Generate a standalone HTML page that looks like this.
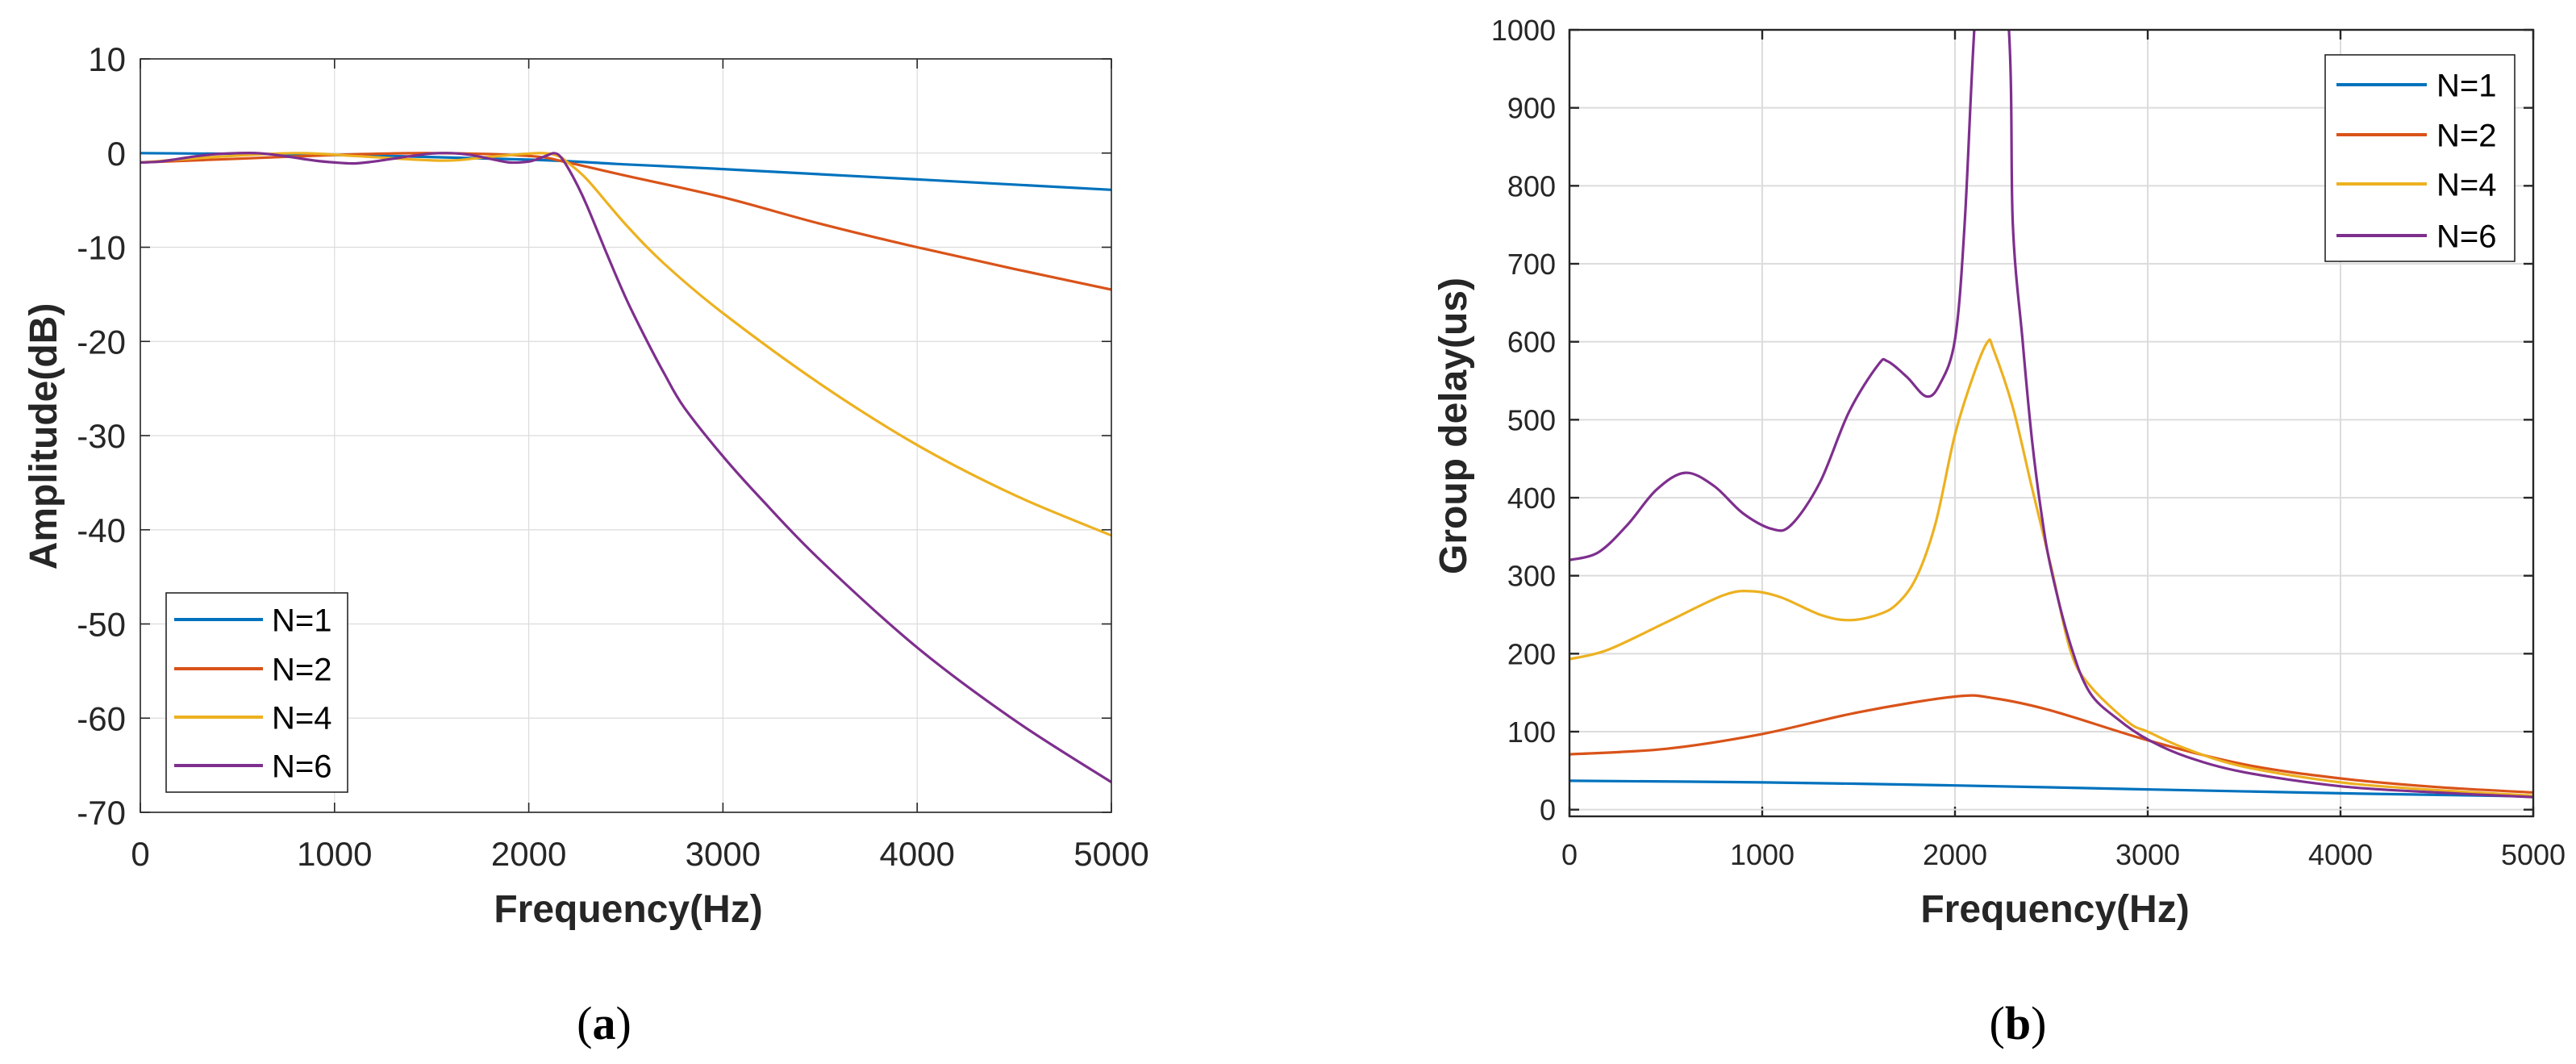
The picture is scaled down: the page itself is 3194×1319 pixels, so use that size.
<!DOCTYPE html>
<html><head><meta charset="utf-8"><style>
html,body{margin:0;padding:0;background:#fff;}
svg{display:block;font-family:"Liberation Sans",Arial,sans-serif;}
</style></head><body>
<svg id="fig" width="3194" height="1319" viewBox="0 0 3194 1319" xmlns="http://www.w3.org/2000/svg">
<defs>
<clipPath id="clipA"><rect x="174" y="73" width="1204" height="934"/></clipPath>
<clipPath id="clipB"><rect x="1946" y="37" width="1195" height="975"/></clipPath>
</defs>
<g id="panelA"></g>
<g id="panelB"></g>
</svg>
<script>
// ---- data ----
const xTicks = [0,1000,2000,3000,4000,5000];
const ampTicks = [10,0,-10,-20,-30,-40,-50,-60,-70];
const delayTicks = [0,100,200,300,400,500,600,700,800,900,1000];
const seriesNames = ["N=1","N=2","N=4","N=6"];
const seriesColors = ["#0072BD","#D95319","#EDB120","#7E2F8E"];

const ampF1 = [0,1000,2000,2500,3000,4000,5000];
const ampV1 = [0,-0.2,-0.7,-1.2,-1.7,-2.8,-3.9];
const ampF2 = [0,500,1000,1500,2000,2200,2500,3000,3500,4000,4500,5000];
const ampV2 = [-1,-0.6,-0.2,0,-0.3,-1,-2.4,-4.7,-7.5,-10,-12.3,-14.5];
const ampF4 = [0,400,800,1100,1550,1800,2050,2150,2200,2300,2500,2700,3000,3500,4000,4500,5000];
const ampV4 = [-1,-0.4,0,-0.3,-0.8,-0.4,0,-0.3,-1,-2.8,-7.6,-11.8,-17,-24.5,-31,-36.3,-40.6];
const ampF6 = [0,100,200,300,400,500,600,700,800,900,1000,1100,1200,1300,1400,1500,1600,1700,1800,1900,2000,2050,2100,2130,2160,2200,2250,2300,2400,2500,2600,2700,2800,3000,3200,3500,4000,4500,5000];
const ampV6 = [-1,-0.9,-0.6,-0.3,-0.1,0,0,-0.2,-0.5,-0.8,-1,-1.1,-0.9,-0.6,-0.3,-0.05,0,-0.2,-0.6,-1,-0.9,-0.6,-0.2,0,-0.3,-1.5,-3.4,-5.6,-10.6,-15.4,-19.6,-23.5,-27,-32.2,-36.8,-43.2,-52.5,-60.2,-66.8];

const delF1 = [0,1000,2000,3000,4000,5000];
const delV1 = [37,35,31,26,21,17];
const delF2 = [0,500,1000,1500,2000,2200,2500,3000,3500,4000,4500,5000];
const delV2 = [71,78,97,125,145,143,127,89,58,40,29,22];
const delF4 = [0,200,500,800,950,1100,1300,1450,1600,1700,1800,1900,2000,2100,2170,2200,2300,2400,2500,2600,2700,2900,3000,3200,3500,4000,4500,5000];
const delV4 = [193,205,240,275,280,272,250,243,250,264,298,368,481,560,600,590,516,412,310,203,159,112,100,78,55,35,25,18];
const delF6 = [0,150,300,450,600,750,900,1050,1150,1300,1450,1600,1650,1750,1850,1920,2000,2050,2100,2180,2280,2300,2350,2400,2450,2500,2600,2700,2850,3000,3200,3500,4000,4500,5000];
const delV6 = [320,330,365,410,432,415,380,360,365,420,510,570,575,555,530,545,603,750,1000,1300,1000,751,603,473,377,307,211,150,115,90,68,48,30,22,16];

// ---- helpers ----
const NS = "http://www.w3.org/2000/svg";
function mk(parent, tag, attrs, text){
  const e = document.createElementNS(NS, tag);
  for (const k in attrs) e.setAttribute(k, attrs[k]);
  if (text !== undefined) e.textContent = text;
  parent.appendChild(e);
  return e;
}
function smoothPath(pts){
  let d = "M" + pts[0][0].toFixed(1) + "," + pts[0][1].toFixed(1);
  for (let i = 0; i < pts.length - 1; i++){
    const p0 = pts[Math.max(0,i-1)], p1 = pts[i], p2 = pts[i+1], p3 = pts[Math.min(pts.length-1,i+2)];
    const c1x = p1[0] + (p2[0]-p0[0])/6, c1y = p1[1] + (p2[1]-p0[1])/6;
    const c2x = p2[0] - (p3[0]-p1[0])/6, c2y = p2[1] - (p3[1]-p1[1])/6;
    d += "C" + c1x.toFixed(1)+","+c1y.toFixed(1)+" "+c2x.toFixed(1)+","+c2y.toFixed(1)+" "+p2[0].toFixed(1)+","+p2[1].toFixed(1);
  }
  return d;
}

function drawPanel(g, cfg){
  const {x0,x1,y0,y1,ymin,ymax,yTicks,clip,fs,axisW,gridW} = cfg;
  const X = f => x0 + (f/5000)*(x1-x0);
  const Y = v => y1 - (v-ymin)/(ymax-ymin)*(y1-y0);
  mk(g,"rect",{x:x0,y:y0,width:x1-x0,height:y1-y0,fill:"#fff"});
  xTicks.forEach(t=>{
    const gl = mk(g,"line",{x1:X(t),x2:X(t),y1:y0,y2:y1,stroke:"#dcdcdc","stroke-width":gridW});
    
    
    mk(g,"line",{x1:X(t),x2:X(t),y1:y1,y2:y1-12,stroke:"#262626","stroke-width":axisW});
    mk(g,"line",{x1:X(t),x2:X(t),y1:y0,y2:y0+12,stroke:"#262626","stroke-width":axisW});
    const tl = mk(g,"text",{x:X(t),y:cfg.xLabY,"font-size":fs,"text-anchor":"middle",fill:"#262626"},String(t));
    
    
  });
  yTicks.forEach(t=>{
    const gl = mk(g,"line",{x1:x0,x2:x1,y1:Y(t),y2:Y(t),stroke:"#dcdcdc","stroke-width":gridW});
    
    
    mk(g,"line",{x1:x0,x2:x0+12,y1:Y(t),y2:Y(t),stroke:"#262626","stroke-width":axisW});
    mk(g,"line",{x1:x1,x2:x1-12,y1:Y(t),y2:Y(t),stroke:"#262626","stroke-width":axisW});
    const tl = mk(g,"text",{x:cfg.yLabX,y:Y(t)+fs*0.36,"font-size":fs,"text-anchor":"end",fill:"#262626"},String(t));
    
    
  });
  const lg = mk(g,"g",{"clip-path":"url(#"+clip+")"});
  cfg.series.forEach((s,i)=>{
    const pts = s[0].map((f,k)=>[X(f),Y(s[1][k])]);
    const p = mk(lg,"path",{d:smoothPath(pts),fill:"none",stroke:seriesColors[i],"stroke-width":3.2,"stroke-linejoin":"round"});
    
    
  });
  mk(g,"rect",{x:x0,y:y0,width:x1-x0,height:y1-y0,fill:"none",stroke:"#262626","stroke-width":axisW});
  const L = cfg.legend;
  const box = mk(g,"rect",{x:L.x,y:L.y,width:L.w,height:L.h,fill:"#fff",stroke:"#262626","stroke-width":1.6});
  
  
  seriesNames.forEach((n,i)=>{
    const yy = L.rows[i];
    mk(g,"line",{x1:L.lx1,x2:L.lx2,y1:yy,y2:yy,stroke:seriesColors[i],"stroke-width":4});
    const t = mk(g,"text",{x:L.tx,y:yy+L.fs*0.36,"font-size":L.fs,fill:"#000"},n);
    
    
  });
  const xl = mk(g,"text",{x:cfg.xTitle[0],y:cfg.xTitle[1],"font-size":48,"font-weight":"bold","text-anchor":"middle",fill:"#262626"},"Frequency(Hz)");
  
  
  const yl = mk(g,"text",{x:0,y:0,"font-size":48,"font-weight":"bold","text-anchor":"middle",fill:"#262626",transform:"translate("+cfg.yTitle[0]+","+cfg.yTitle[1]+") rotate(-90)"},cfg.yTitleText);
  
  
  const cap = mk(g,"text",{x:cfg.cap[0],y:cfg.cap[1],"font-size":58,"text-anchor":"middle","font-family":"Liberation Serif, serif",fill:"#000"},"");
  
  
  mk(cap,"tspan",{},"(");
  mk(cap,"tspan",{"font-weight":"bold"},cfg.capLetter);
  mk(cap,"tspan",{},")");
}

drawPanel(document.getElementById('panelA'),{
  x0:174,x1:1378,y0:73,y1:1007,ymin:-70,ymax:10,yTicks:ampTicks,clip:"clipA",fs:42,axisW:1.6,gridW:1.2,
  xLabY:1073,yLabX:156,
  series:[[ampF1,ampV1],[ampF2,ampV2],[ampF4,ampV4],[ampF6,ampV6]],
  legend:{x:206,y:735,w:225,h:247,rows:[768,829,889,949],lx1:216,lx2:326,tx:337,fs:40},
  xTitle:[779,1143],yTitle:[70,541],yTitleText:"Amplitude(dB)",cap:[749,1288],capLetter:"a"
});
drawPanel(document.getElementById('panelB'),{
  x0:1946,x1:3141,y0:37,y1:1012,ymin:-8.6,ymax:1000,yTicks:delayTicks,clip:"clipB",fs:36,axisW:2.4,gridW:2,
  xLabY:1072,yLabX:1929,
  series:[[delF1,delV1],[delF2,delV2],[delF4,delV4],[delF6,delV6]],
  legend:{x:2883,y:68,w:235,h:256,rows:[105,167,228,292],lx1:2897,lx2:3009,tx:3021,fs:40},
  xTitle:[2548,1143],yTitle:[1818,528],yTitleText:"Group delay(us)",cap:[2502,1288],capLetter:"b"
});
</script>
</body></html>
